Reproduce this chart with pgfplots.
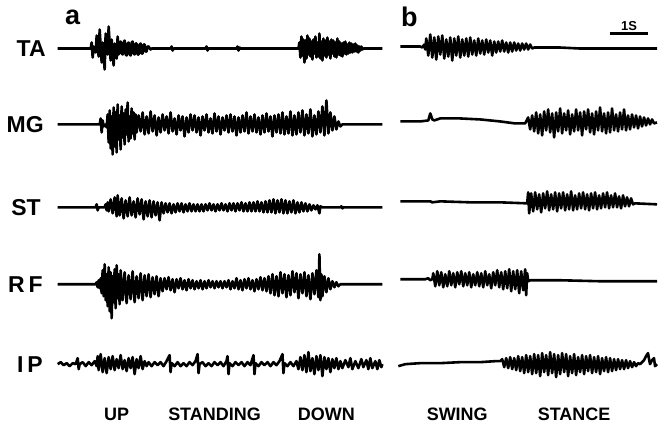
\documentclass[border=0pt]{standalone}
\usepackage{fontspec}
\setmainfont{Liberation Sans}
\usepackage{pgfplots}
\pgfplotsset{compat=1.18}

% one pixel of the reference = 0.5pt; every axis covers the whole sheet
\pgfplotsset{
  sheet/.style={scale only axis, width=332pt, height=210.5pt, hide axis,
    xmin=0, xmax=664, y dir=reverse, clip=false},
  emg/.style={black, line width=1.3pt, line join=round, no markers},
}
\newcommand{\lab}{\bfseries\fontsize{11.5}{11.5}\selectfont}
\newcommand{\phase}{\bfseries\fontsize{9}{9}\selectfont}

\begin{document}
\begin{tikzpicture}
% ---- labels, scale bar
\begin{axis}[sheet, ymin=0, ymax=421]
\addplot[draw=none] coordinates {(0,0)(664,421)};
\node[font=\lab, anchor=east] at (axis cs:52,45) {TA};
\node[font=\lab, anchor=east] at (axis cs:50,121) {MG};
\node[font=\lab, anchor=east] at (axis cs:47,204) {ST};
\node[font=\lab, anchor=east] at (axis cs:49,281) {R\,F};
\node[font=\lab, anchor=east] at (axis cs:49,361) {I\,P};
\node[font=\bfseries\fontsize{13.5}{13.5}\selectfont] at (axis cs:72,14) {a};
\node[font=\bfseries\fontsize{13.5}{13.5}\selectfont] at (axis cs:409,13) {b};
\node[font=\bfseries\fontsize{6.5}{6.5}\selectfont] at (axis cs:629,22) {1S};
\addplot[black, line width=1.3pt] coordinates {(610,30)(648,30)};
\node[font=\phase] at (axis cs:116,411) {UP};
\node[font=\phase] at (axis cs:214,411) {STANDING};
\node[font=\phase] at (axis cs:326,411) {DOWN};
\node[font=\phase] at (axis cs:457,411) {SWING};
\node[font=\phase] at (axis cs:574,411) {STANCE};
\end{axis}

% ---- a: TA
\begin{axis}[sheet, ymin=-45, ymax=376]
\addplot[emg] coordinates {(57,0)(90,0)(91,-6)(92,9)(93,-2)(95,4)(96,-13)(98,8)(99,-19)(101,14)(102,-6)(104,21)(105,-15)(107,6)(108,-22)(110,12)(111,-9)(113,17)(114,-5)(116,10)(117,-12)
(118,6)(119,-6)(120,-7)(121,5)(122,6)(123,-6)(124,-8)(125,6)(126,7)(127,-5)(128,-6)(129,6)(130,7)(131,-6)(132,-7)(133,5)(134,6)(135,-5)(136,-5)(137,6)(138,6)(139,-4)(140,-5)(141,5)(142,5)(143,-4)(144,-4)(145,3)(146,3)(147,-2)(148,-2)(150,1)(151,0)
(170,0)(171,-2)(172,2)(173,0)(205,0)(206,-2)(207,2)(208,0)(236,0)(237,-2)(238,2)(239,-1)(240,0)(297,0)
(298,0)(299,-6)(300,9)(301,-12)(302,7)(303,-9)(304,14)(305,-8)(306,10)(307,-13)(308,6)(309,-10)(310,8)(311,-7)(312,11)(313,-9)(314,5)(315,-12)(316,9)(317,-6)(318,8)(319,-15)(320,10)(321,-7)(322,12)(323,-10)(324,7)(325,-8)(326,9)(327,-11)(328,6)(329,-7)(330,10)(331,-9)(332,5)(333,-8)(334,8)(335,-6)(336,9)(337,-10)(338,6)(339,-7)(340,7)(341,-5)(342,8)(343,-6)(344,5)(345,-7)(346,6)(347,-4)(348,5)(349,-6)(350,4)(351,-5)(352,4)(353,-4)(354,3)(355,-5)(356,3)(357,-3)(358,4)(359,-2)(360,2)(361,-2)(362,1)(363,0)(382,0)};
\end{axis}

% ---- a: MG
\begin{axis}[sheet, ymin=-121, ymax=300]
\addplot[emg] coordinates {(57,0)(99,0)(100,-6)(101,8)(102,-4)(103,2)(105,0)
(106,3)(107,-10)(108,18)(109,-14)(110,24)(111,-8)(112,30)(113,-17)(114,22)(115,-12)(116,28)(117,-20)(118,15)(119,-9)(120,25)(121,-18)(122,13)(123,-11)(124,20)(125,-15)(126,10)(127,-22)(128,17)(129,-8)(130,14)(131,-16)(132,9)(133,-12)(134,15)(135,-10)
(136,8)(138,-9)(140,7)(142,-12)(144,10)(146,-8)(148,9)(150,-13)(152,7)(154,-9)(156,11)(158,-7)(160,8)(162,-10)(164,6)(166,-8)(168,9)(170,-12)(172,7)(174,-6)(176,10)(178,-9)(180,6)(182,-8)(184,12)(186,-7)(188,8)(190,-10)(192,6)(194,-9)(196,8)(198,-7)(200,11)(202,-8)(204,6)(206,-10)(208,8)(210,-6)(212,9)(214,-11)(216,7)(218,-8)(220,10)(222,-7)(224,6)(226,-9)(228,8)(230,-10)(232,7)(234,-8)(236,11)(238,-7)(240,8)(242,-9)(244,7)(246,-12)(248,9)(250,-8)(252,7)(254,-10)(256,8)(258,-7)(260,10)(262,-9)(264,8)(266,-11)(268,7)(270,-8)(272,12)(274,-9)(276,8)(278,-10)(280,9)(282,-12)(284,10)(286,-8)(288,9)(290,-13)(292,11)(294,-9)(296,10)(298,-12)(300,8)(302,-14)(304,11)(306,-10)(308,9)(310,-15)(312,12)(314,-9)(316,10)(318,-13)(320,8)(322,-18)(324,11)(326,-24)(328,9)(330,-12)(332,6)(334,-8)(336,5)(338,-3)(340,2)(342,0)(382,0)};
\end{axis}

% ---- a: ST
\begin{axis}[sheet, ymin=-204, ymax=217]
\addplot[emg] coordinates {(57,0)(95,0)(96,-3)(97,3)(98,0)(104,0)(105,-3)(106,3)(107,-5)(108,4)
(110,-8)(112,6)(114,-10)(116,9)(117,-12)(119,8)(121,-9)(123,11)(125,-7)(127,9)(129,-10)(131,8)(133,-6)(135,10)(137,-9)(139,7)(141,-8)(143,12)(145,-6)(147,9)(149,-7)(151,10)(153,-6)(155,8)(157,-5)(159,13)(161,-5)(163,6)
(165,-4)(167,5)(169,-4)(171,6)(173,-3)(175,5)(177,-4)(179,4)(181,-4)(183,5)(185,-3)(187,4)(189,-4)(191,4)(193,-3)(195,4)(197,-3)(199,4)(201,-3)(203,4)(205,-3)(207,3)(209,-4)(211,3)(213,-3)(215,4)(217,-3)(219,3)(221,-4)(223,3)(225,-3)(227,4)(229,-4)(231,3)(233,-4)(235,4)(237,-4)(239,3)(241,-5)(243,4)(245,-4)(247,4)(249,-5)(251,4)(253,-5)(255,4)(257,-6)(259,4)(261,-5)(263,5)
(265,-6)(267,5)(269,-7)(271,5)(273,-8)(275,6)(277,-7)(279,5)(281,-8)(283,6)(285,-7)(287,6)(289,-6)(291,5)(293,-7)(295,6)(297,-5)(299,5)(301,-5)(303,4)(305,-4)(307,4)(309,-3)(311,3)(313,-2)(315,2)(317,-2)(319,6)(320,-1)(322,0)(340,0)(341,-1)(342,1)(343,0)(382,0)};
\end{axis}

% ---- a: RF
\begin{axis}[sheet, ymin=-281, ymax=140]
\addplot[emg] coordinates {(57,0)(95,0)(96,-2)(97,3)(98,-4)(99,4)(100,-6)
(101,9)(102,-14)(103,12)(104,-20)(105,16)(106,-10)(107,22)(108,-17)(109,27)(110,-12)(111,34)(112,-8)(113,18)(114,-15)(115,24)(116,-19)(117,14)(118,-10)(119,20)(120,-14)(122,16)(124,-12)(126,19)(128,-9)(130,15)(132,-13)(134,18)(136,-8)(138,14)(140,-11)(142,16)(144,-9)(146,12)(148,-10)(150,13)(152,-7)(154,10)(156,-8)(158,12)(160,-6)
(162,7)(164,-6)(166,5)(168,-7)(170,6)(172,-5)(174,8)(176,-5)(178,4)(180,-6)(182,5)(184,-4)(186,6)(188,-5)(190,4)(192,-4)(194,5)(196,-3)(198,4)(200,-4)(202,5)(204,-3)(206,4)(208,-4)(210,3)(212,-3)(214,4)(216,-3)(218,3)(220,-3)(222,4)(224,-3)(226,3)(228,-4)(230,5)(232,-3)(234,4)(236,-6)(238,5)(240,-4)(242,6)(244,-5)(246,4)(248,-6)(250,5)(252,-4)(254,7)(256,-5)(258,5)(260,-7)(262,6)(264,-6)(266,7)(268,-8)
(270,9)(272,-10)(274,11)(276,-8)(278,12)(280,-12)(282,9)(284,-10)(286,13)(288,-9)(290,11)(292,-13)(294,8)(296,-11)(298,14)(300,-10)(302,9)(304,-12)(306,12)(308,-9)(310,15)(312,-11)(314,10)(316,-14)(318,13)(319,-30)(320,16)(321,-10)(322,12)(324,-8)(326,8)(328,-6)(330,5)(332,-3)(334,3)(336,-2)(338,2)(340,0)(382,0)};
\end{axis}

% ---- a: IP
\begin{axis}[sheet, ymin=-361, ymax=60]
\addplot[emg] coordinates {(57,0)(60,-2)(63,1)(66,-1)(69,2)(72,-1)(75,0)(77,-6)(78,5)(79,0)(82,-2)(85,2)(88,-2)(91,1)(94,-3)(96,2)
(97,-8)(98,6)(100,-10)(102,8)(104,-6)(106,9)(108,-7)(110,5)(112,-8)(114,6)(116,-5)(118,4)(120,-9)(122,5)(124,-4)(126,7)(128,-6)(130,4)(132,-7)(134,10)(136,-5)(138,4)(140,-8)(142,5)(144,-3)(146,2)
(148,-2)(151,2)(154,-2)(157,1)(160,-2)(163,2)(166,-3)(169,-9)(170,8)(171,-1)(174,2)(177,-2)(180,2)(183,-1)(186,2)(189,-2)(192,1)(195,-3)(197,-10)(198,9)(199,0)(202,-2)(205,2)(208,-1)(211,2)(214,-2)(217,1)(220,-2)(223,2)(226,-3)(227,-8)(228,10)(229,-1)(232,2)(235,-2)(238,1)(241,-2)(244,2)(247,-2)(250,1)(253,-9)(254,10)(255,-1)(258,2)(261,-2)(264,1)(267,-2)(270,2)(273,-2)(276,1)(279,-3)(282,-10)(283,9)(284,-1)(287,2)(290,-2)(293,2)(296,-3)
(298,5)(300,-7)(302,6)(304,-9)(306,8)(308,-12)(310,7)(312,-6)(314,10)(316,-8)(318,6)(320,-9)(322,12)(324,-7)(326,5)(328,-6)(330,8)(332,-5)(334,4)(336,-6)(338,5)(340,-3)
(342,4)(345,-4)(348,3)(350,-6)(352,5)(355,-3)(358,4)(361,-5)(363,3)(366,-4)(368,5)(370,-6)(372,4)(375,-3)(377,5)(379,-4)(381,3)(382,0)};
\end{axis}

% ---- b: TA
\begin{axis}[sheet, ymin=-43, ymax=378]
\addplot[emg] coordinates {(400,0)(420,0)(422,1)(424,-2)(425,3)
(426,-8)(428,9)(430,-12)(432,11)(434,-9)(436,13)(438,-10)(440,8)(442,-11)(444,12)(446,-7)(448,10)(450,-9)(452,14)(454,-8)(456,9)(458,-10)(460,11)(462,-7)(464,9)(466,-8)(468,10)(470,-9)(472,8)(474,-6)(476,9)(478,-8)(480,7)(482,-6)(484,8)(486,-7)(488,6)(490,-6)(492,9)(494,-5)(496,6)(498,-5)(500,5)(502,-6)(504,5)(506,-4)(508,6)(510,-4)(512,5)(514,-4)(516,4)(518,-3)(520,4)(522,-3)(524,3)(526,-3)(528,3)(530,-2)(532,2)(534,1)(536,1)
(560,1)(580,2)(600,2)(620,2)(657,2)};
\end{axis}

% ---- b: MG
\begin{axis}[sheet, ymin=-118, ymax=303]
\addplot[emg] coordinates {(400,0)(420,0)(428,-1)(430,-8)(432,-2)(434,-1)(440,-3)(460,-3)(480,-2)(500,0)(515,2)(525,2)
(528,-4)(530,8)(532,-6)(534,10)(536,-9)(538,12)(540,-7)(542,14)(544,-10)(546,9)(548,-12)(550,11)(552,-8)(554,16)(556,-9)(558,10)(560,-13)(562,12)(564,-8)(566,9)(568,-11)(570,13)(572,-7)(574,10)(576,-12)(578,9)(580,-9)(582,14)(584,-10)(586,8)(588,-12)(590,11)(592,-8)(594,13)(596,-10)(598,9)(600,-14)(602,10)(604,-8)(606,12)(608,-9)(610,11)(612,-13)(614,9)(616,-7)(618,10)(620,-9)(622,8)(624,-12)(626,9)(628,-6)(630,8)(632,-7)(634,6)(636,-6)(638,7)(640,-5)(642,5)(644,-4)(646,4)(648,-3)(650,3)(652,-2)(654,2)(657,1)};
\end{axis}

% ---- b: ST
\begin{axis}[sheet, ymin=-198, ymax=223]
\addplot[emg] coordinates {(400,0)(430,0)(432,1)(440,0)(470,1)(500,1)(527,2)
(528,-9)(529,12)(531,-8)(533,10)(535,-9)(537,8)(539,-7)(541,11)(543,-8)(545,7)(547,-10)(549,9)(551,-7)(553,8)(555,-9)(557,10)(559,-8)(561,7)(563,-9)(565,9)(567,-7)(569,8)(571,-10)(573,9)(575,-6)(577,8)(579,-8)(581,7)(583,-9)(585,8)(587,-7)(589,9)(591,-8)(593,7)(595,-9)(597,8)(599,-6)(601,7)(603,-8)(605,6)(607,-9)(609,7)(611,-6)(613,6)(615,-8)(617,6)(619,-5)(621,7)(623,-6)(625,5)(627,-4)(629,5)(631,-3)(633,3)(635,2)(657,3)};
\end{axis}

% ---- b: RF
\begin{axis}[sheet, ymin=-276, ymax=145]
\addplot[emg] coordinates {(400,0)(425,0)(428,-1)(430,1)(432,0)
(433,-6)(435,7)(437,-8)(439,6)(441,-7)(443,8)(445,-5)(447,7)(449,-8)(451,6)(453,-6)(455,8)(457,-7)(459,5)(461,-8)(463,7)(465,-6)(467,6)(469,-7)(471,8)(473,-5)(475,6)(477,-7)(479,7)(481,-6)(483,8)(485,-8)(487,6)(489,-5)(491,9)(493,-7)(495,6)(497,-9)(499,8)(501,-7)(503,10)(505,-8)(507,9)(509,-10)(511,12)(513,-8)(515,10)(517,-9)(519,14)(521,-8)(523,11)(525,-10)(526,16)(527,-6)(528,2)(530,1)
(560,1)(600,2)(657,2)};
\end{axis}

% ---- b: IP
\begin{axis}[sheet, ymin=-361, ymax=60]
\addplot[emg] coordinates {(398,2)(405,0)(420,-1)(440,-1)(460,-2)(480,-2)(495,-3)(500,-3)
(502,-5)(504,3)(506,-6)(508,4)(510,-7)(512,5)(514,-6)(516,6)(518,-8)(520,7)(522,-7)(524,9)(526,-9)(528,8)(530,-8)(532,10)(534,-10)(536,9)(538,-9)(540,12)(542,-11)(544,8)(546,-9)(548,11)(550,-12)(552,9)(554,-10)(556,13)(558,-9)(560,10)(562,-11)(564,8)(566,-10)(568,12)(570,-8)(572,9)(574,-10)(576,11)(578,-7)(580,8)(582,-9)(584,10)(586,-8)(588,7)(590,-9)(592,9)(594,-7)(596,8)(598,-8)(600,10)(602,-6)(604,7)(606,-7)(608,8)(610,-6)(612,7)(614,-5)(616,6)(618,-5)(620,5)(622,-4)(624,5)(626,-4)(628,4)(630,-3)(632,3)(634,-2)(636,2)(638,-1)(640,0)(642,-2)(644,-4)(646,-8)(648,-11)(649,-5)(650,0)(652,-4)(654,-6)(655,2)(657,0)};
\end{axis}
\end{tikzpicture}
\end{document}
